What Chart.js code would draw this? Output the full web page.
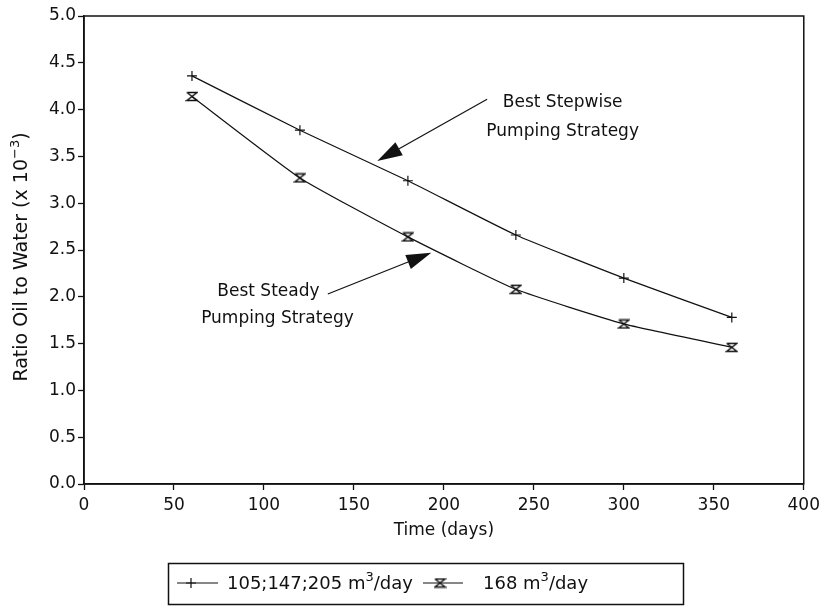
<!DOCTYPE html>
<html>
<head>
<meta charset="utf-8">
<script src="https://cdn.jsdelivr.net/npm/chart.js@4.4.1/dist/chart.umd.min.js"></script>
<style>
  html, body { margin: 0; padding: 0; background: #fff; }
  #wrap { width: 825px; height: 607px; position: relative; }
</style>
</head>
<body>
<div id="wrap"><canvas id="chart-oil" width="825" height="607"></canvas></div>
<script>
const days = [60, 120, 180, 240, 300, 360]
const stepwise = [4.36, 3.78, 3.24, 2.66, 2.20, 1.78]
const steady = [4.14, 3.27, 2.64, 2.08, 1.71, 1.46]
const xTicks = [0, 50, 100, 150, 200, 250, 300, 350, 400]
const yTicks = [0, 0.5, 1, 1.5, 2, 2.5, 3, 3.5, 4, 4.5, 5]

const FONT = "'DejaVu Sans', 'Liberation Sans', sans-serif"
const SIZE = 17
const INK = "#111"

// hourglass marker used by the steady series
function hourglass() {
  const c = document.createElement("canvas")
  c.width = 13
  c.height = 11
  const g = c.getContext("2d")
  g.strokeStyle = INK
  g.lineWidth = 1.3
  g.beginPath()
  g.moveTo(1.5, 1.5); g.lineTo(11.5, 1.5)
  g.lineTo(1.5, 9.5); g.lineTo(11.5, 9.5)
  g.lineTo(1.5, 1.5)
  g.stroke()
  return c
}
const hourglassImg = hourglass()

function drawCross(ctx, x, y) {
  ctx.beginPath()
  ctx.moveTo(x - 5, y); ctx.lineTo(x + 5, y)
  ctx.moveTo(x, y - 5); ctx.lineTo(x, y + 5)
  ctx.stroke()
}

function arrow(ctx, x1, y1, x2, y2) {
  const a = Math.atan2(y2 - y1, x2 - x1)
  const len = 25, half = 7.5
  const bx = x2 - len * Math.cos(a), by = y2 - len * Math.sin(a)
  ctx.beginPath()
  ctx.moveTo(x1, y1)
  ctx.lineTo(bx, by)
  ctx.stroke()
  ctx.beginPath()
  ctx.moveTo(x2, y2)
  ctx.lineTo(bx + half * Math.sin(a), by - half * Math.cos(a))
  ctx.lineTo(bx - half * Math.sin(a), by + half * Math.cos(a))
  ctx.closePath()
  ctx.fill()
}

// text with superscript pieces: [[text, sup], ...]
function partsWidth(ctx, parts, size) {
  let w = 0
  for (const [t, sup] of parts) {
    ctx.font = (sup ? Math.round(size * 0.7) : size) + "px " + FONT
    w += ctx.measureText(t).width
  }
  return w
}
function richText(ctx, parts, x, y, size) {
  let cx = x
  for (const [t, sup] of parts) {
    ctx.font = (sup ? Math.round(size * 0.7) : size) + "px " + FONT
    ctx.fillText(t, cx, sup ? y - size * 0.36 : y)
    cx += ctx.measureText(t).width
  }
}

const extras = {
  id: "extras",
  afterDatasetsDraw(chart) {
    const { ctx, chartArea: a, scales: { x, y } } = chart
    ctx.save()
    // frame round the plot
    ctx.strokeStyle = INK
    ctx.lineWidth = 1.5
    ctx.strokeRect(a.left, a.top, a.right - a.left, a.bottom - a.top)

    // annotations
    ctx.fillStyle = INK
    ctx.lineWidth = 1.2
    ctx.font = SIZE + "px " + FONT
    ctx.textAlign = "center"
    ctx.textBaseline = "middle"
    ctx.fillText("Best Stepwise", x.getPixelForValue(266), y.getPixelForValue(4.08))
    ctx.fillText("Pumping Strategy", x.getPixelForValue(266), y.getPixelForValue(3.77))
    ctx.fillText("Best Steady", x.getPixelForValue(102.5), y.getPixelForValue(2.06))
    ctx.fillText("Pumping Strategy", x.getPixelForValue(107.5), y.getPixelForValue(1.77))
    arrow(ctx, x.getPixelForValue(224), y.getPixelForValue(4.11), x.getPixelForValue(163), y.getPixelForValue(3.45))
    arrow(ctx, x.getPixelForValue(135.5), y.getPixelForValue(2.03), x.getPixelForValue(193), y.getPixelForValue(2.47))

    // y title with superscript
    ctx.save()
    ctx.translate(22, (a.top + a.bottom) / 2 + 7)
    ctx.rotate(-Math.PI / 2)
    ctx.textAlign = "left"
    const yParts = [["Ratio Oil to Water (x 10", false], ["\u22123", true], [")", false]]
    richText(ctx, yParts, -partsWidth(ctx, yParts, 19) / 2, 0, 19)
    ctx.restore()

    // legend box
    ctx.lineWidth = 1.5
    ctx.strokeRect(168.5, 563.5, 515, 41)
    ctx.lineWidth = 1.2
    ctx.textAlign = "left"
    const ly = 583
    ctx.beginPath(); ctx.moveTo(177, ly); ctx.lineTo(218, ly); ctx.stroke()
    drawCross(ctx, 191, ly)
    richText(ctx, [["105;147;205 m", false], ["3", true], ["/day", false]], 227, ly + 1, SIZE + 1)
    ctx.beginPath(); ctx.moveTo(423, ly); ctx.lineTo(463, ly); ctx.stroke()
    ctx.drawImage(hourglassImg, 440 - 6.5, ly - 5.5)
    richText(ctx, [["168 m", false], ["3", true], ["/day", false]], 483, ly + 1, SIZE + 1)
    ctx.restore()
  }
}

new Chart(document.getElementById("chart-oil"), {
  type: "line",
  data: {
    datasets: [{
      label: "105;147;205 m³/day",
      data: days.map((d, i) => ({ x: d, y: stepwise[i] })),
      borderColor: INK,
      borderWidth: 1.2,
      pointStyle: "cross",
      pointRadius: 5,
      pointBorderColor: INK,
      pointBorderWidth: 1.2,
      tension: 0.15
    }, {
      label: "168 m³/day",
      data: days.map((d, i) => ({ x: d, y: steady[i] })),
      borderColor: INK,
      borderWidth: 1.2,
      pointStyle: hourglassImg,
      pointRadius: 6,
      tension: 0.15
    }]
  },
  options: {
    responsive: false,
    animation: false,
    events: [],
    layout: { padding: { top: 16, right: 20, bottom: 63, left: 0 } },
    plugins: { legend: { display: false }, tooltip: { enabled: false } },
    scales: {
      x: {
        type: "linear",
        min: 0,
        max: 400,
        afterBuildTicks: s => { s.ticks = xTicks.map(v => ({ value: v })) },
        afterFit: s => { s.height = 60 },
        grid: { drawOnChartArea: false, color: INK, tickLength: 6, tickWidth: 1.3 },
        border: { color: INK, width: 1.5 },
        ticks: { color: INK, padding: 5, maxRotation: 0, font: { family: FONT, size: SIZE } },
        title: { display: true, text: "Time (days)", color: INK, padding: { top: 4, bottom: 3 }, font: { family: FONT, size: SIZE } }
      },
      y: {
        min: 0,
        max: 5,
        afterBuildTicks: s => { s.ticks = yTicks.map(v => ({ value: v })) },
        afterFit: s => { s.width = 84 },
        grid: { drawOnChartArea: false, color: INK, tickLength: 6, tickWidth: 1.3 },
        border: { color: INK, width: 1.5 },
        ticks: { color: INK, padding: 2, font: { family: FONT, size: SIZE }, callback: v => v.toFixed(1) }
      }
    }
  },
  plugins: [extras]
})
</script>
</body>
</html>
